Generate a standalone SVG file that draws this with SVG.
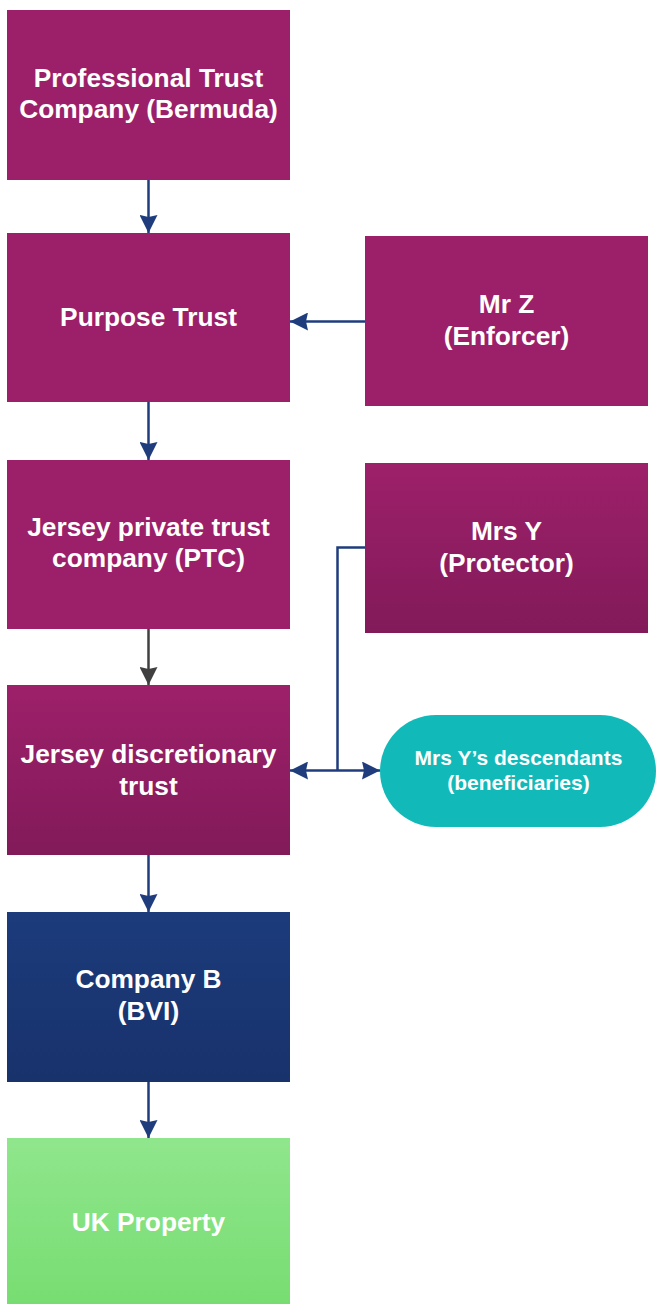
<svg xmlns="http://www.w3.org/2000/svg" width="656" height="1304" viewBox="0 0 656 1304">
  <defs>
    <style>
      .t { font-family: "Liberation Sans", Arial, sans-serif; font-weight: bold; fill: #ffffff; text-anchor: middle; font-size: 26.3px; }
      .ts { font-size: 21px; }
      .flat { fill: #9b1f69; }
      .grad { fill: url(#gMag); }
      .c { fill: none; stroke: #1f3c7c; stroke-width: 2.5; }
      .cg { fill: none; stroke: #404040; stroke-width: 2.5; }
    </style>
    <linearGradient id="gMag" x1="0" y1="0" x2="0" y2="1">
      <stop offset="0" stop-color="#9d206a"/>
      <stop offset="1" stop-color="#821a59"/>
    </linearGradient>
    <linearGradient id="gBlue" x1="0" y1="0" x2="0" y2="1">
      <stop offset="0" stop-color="#1c3b7b"/>
      <stop offset="1" stop-color="#18326c"/>
    </linearGradient>
    <linearGradient id="gGreen" x1="0" y1="0" x2="0" y2="1">
      <stop offset="0" stop-color="#90e68c"/>
      <stop offset="1" stop-color="#77dd72"/>
    </linearGradient>
    <marker id="aN" viewBox="0 0 18 18" refX="18" refY="9" markerWidth="18" markerHeight="18" markerUnits="userSpaceOnUse" orient="auto-start-reverse">
      <path d="M0,0 L18,9 L0,18 L2,9 Z" fill="#1f3c7c"/>
    </marker>
    <marker id="aG" viewBox="0 0 18 18" refX="18" refY="9" markerWidth="18" markerHeight="18" markerUnits="userSpaceOnUse" orient="auto">
      <path d="M0,0 L18,9 L0,18 L2,9 Z" fill="#404040"/>
    </marker>
  </defs>

  <g id="connectors">
    <line class="c" x1="148.5" y1="180" x2="148.5" y2="233" marker-end="url(#aN)"/>
    <line class="c" x1="148.5" y1="402" x2="148.5" y2="460" marker-end="url(#aN)"/>
    <line class="cg" x1="148.5" y1="629" x2="148.5" y2="685" marker-end="url(#aG)"/>
    <line class="c" x1="148.5" y1="855" x2="148.5" y2="912" marker-end="url(#aN)"/>
    <line class="c" x1="148.5" y1="1082" x2="148.5" y2="1138" marker-end="url(#aN)"/>
    <line class="c" x1="365" y1="321.5" x2="290" y2="321.5" marker-end="url(#aN)"/>
    <polyline class="c" points="365,547.5 337.5,547.5 337.5,770.5"/>
    <line class="c" x1="290" y1="770.5" x2="380" y2="770.5" marker-start="url(#aN)" marker-end="url(#aN)"/>
  </g>

  <g id="n-ptc-bermuda">
    <rect class="flat" x="7" y="10" width="283" height="170"/>
    <text class="t" x="148.5" y="87">Professional Trust</text>
    <text class="t" x="148.5" y="118">Company (Bermuda)</text>
  </g>

  <g id="n-purpose-trust">
    <rect class="flat" x="7" y="233" width="283" height="169"/>
    <text class="t" x="148.5" y="326">Purpose Trust</text>
  </g>

  <g id="n-mr-z">
    <rect class="flat" x="365" y="236" width="283" height="170"/>
    <text class="t" x="506.5" y="313">Mr Z</text>
    <text class="t" x="506.5" y="345">(Enforcer)</text>
  </g>

  <g id="n-jersey-ptc">
    <rect class="flat" x="7" y="460" width="283" height="169"/>
    <text class="t" x="148.5" y="536">Jersey private trust</text>
    <text class="t" x="148.5" y="567">company (PTC)</text>
  </g>

  <g id="n-mrs-y">
    <rect class="grad" x="365" y="463" width="283" height="170"/>
    <text class="t" x="506.5" y="540">Mrs Y</text>
    <text class="t" x="506.5" y="572">(Protector)</text>
  </g>

  <g id="n-jersey-dt">
    <rect class="grad" x="7" y="685" width="283" height="170"/>
    <text class="t" x="148.5" y="763">Jersey discretionary</text>
    <text class="t" x="148.5" y="795">trust</text>
  </g>

  <g id="n-descendants">
    <rect x="380" y="715" width="276" height="112" rx="56" ry="56" fill="#12b9b9"/>
    <text class="t ts" x="518.5" y="765">Mrs Y’s descendants</text>
    <text class="t ts" x="518.5" y="790">(beneficiaries)</text>
  </g>

  <g id="n-company-b">
    <rect x="7" y="912" width="283" height="170" fill="url(#gBlue)"/>
    <text class="t" x="148.5" y="988">Company B</text>
    <text class="t" x="148.5" y="1020">(BVI)</text>
  </g>

  <g id="n-uk-property">
    <rect x="7" y="1138" width="283" height="166" fill="url(#gGreen)"/>
    <text class="t" x="148.5" y="1231">UK Property</text>
  </g>
</svg>
